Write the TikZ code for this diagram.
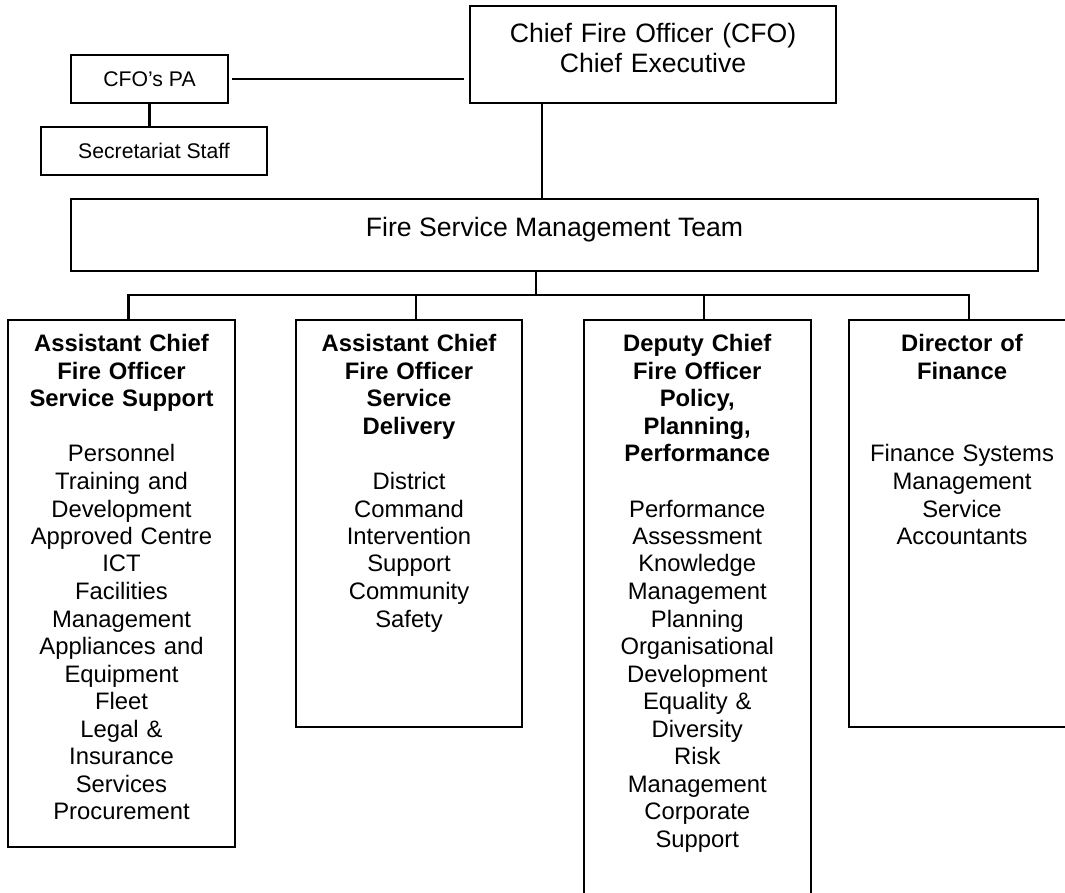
\documentclass[tikz,border=0pt]{standalone}
\usepackage{fontspec}
\setmainfont{Liberation Sans}
\usetikzlibrary{calc}
\newcommand{\unitsize}{\fontsize{6.77pt}{7.82pt}\selectfont}
\newcommand{\headsize}{\fontsize{7.57pt}{8.54pt}\selectfont}
\newcommand{\stafsize}{\fontsize{6.03pt}{7pt}\selectfont}

\begin{document}
\begin{tikzpicture}[x=0.01cm, y=-0.01cm, line width=0.6pt,
	box/.style={draw, inner sep=0pt},
	unittext/.style={anchor=base, inner sep=0pt, text width=2.2cm, align=center, font=\unitsize},
	headtext/.style={anchor=base, inner sep=0pt, align=center, font=\headsize}]
	\useasboundingbox (0,0) rectangle (1065,892);
	\clip (0,0) rectangle (1065,892);
		\node[box, minimum width=3.66cm, minimum height=0.97cm] (cfo) at (653,54.5) {};
		\node[headtext, text width=3.4cm] (cfo-t) at (653,42.5) {Chief Fire Officer (CFO)\\Chief Executive};
		\node[box, minimum width=1.57cm, minimum height=0.48cm, font=\stafsize] (pa) at (149.5,79) {CFO's PA};
		\node[box, minimum width=2.26cm, minimum height=0.48cm, font=\stafsize] (sec) at (154,151) {Secretariat Staff};
		\node[box, minimum width=9.67cm, minimum height=0.72cm] (fsmt) at (554.5,235.3) {};
		\node[headtext] (fsmt-t) at (554.5,236.5) {Fire Service Management Team};
		\node[box, minimum width=2.27cm, minimum height=5.27cm] (ss) at (121.5,583.5) {};
		\node[box, minimum width=2.26cm, minimum height=4.07cm] (sd) at (409,523.5) {};
		\node[box, minimum width=2.265cm, minimum height=6.2cm] (pp) at (697.25,630) {};
		\node[box, minimum width=2.26cm, minimum height=4.07cm] (fin) at (962,523.5) {};
		\node[unittext] (ss-t) at (121.5,352) {{\bfseries Assistant Chief\\Fire Officer\\Service Support}\\[7.82pt]Personnel\\Training and\\Development\\Approved Centre\\ICT\\Facilities\\Management\\Appliances and\\Equipment\\Fleet\\Legal \&\\Insurance\\Services\\Procurement};
		\node[unittext] (sd-t) at (409,352) {{\bfseries Assistant Chief\\Fire Officer\\Service\\Delivery}\\[7.82pt]District\\Command\\Intervention\\Support\\Community\\Safety};
		\node[unittext] (pp-t) at (697.25,352) {{\bfseries Deputy Chief\\Fire Officer\\Policy,\\Planning,\\Performance}\\[7.82pt]Performance\\Assessment\\Knowledge\\Management\\Planning\\Organisational\\Development\\Equality \&\\Diversity\\Risk\\Management\\Corporate\\Support};
		\node[unittext] (fin-t) at (962,352) {{\bfseries Director of\\Finance}\\[15.64pt]Finance Systems\\Management\\Service\\Accountants};
		\coordinate (cfo-d) at ([shift={(73,0)}]cfo.south west);
		\coordinate (bus) at (536,295);
		\coordinate (ss-in) at ([shift={(7,0)}]ss.north);
		\coordinate (sd-in) at ([shift={(7,0)}]sd.north);
		\coordinate (pp-in) at ([shift={(7,0)}]pp.north);
		\coordinate (fin-in) at ([shift={(7,0)}]fin.north);
		\draw [shorten <=0.8pt, shorten >=1.4pt] (pa.east) -- (pa.east -| cfo.west);
		\draw (pa.south) -- (pa.south |- sec.north);
		\draw (cfo-d) -- (cfo-d |- fsmt.north);
		\draw (fsmt.south -| bus) -- (bus);
		\draw (ss-in) |- (bus) -| (fin-in);
		\draw (sd-in) -- (sd-in |- bus);
		\draw (pp-in) -- (pp-in |- bus);
\end{tikzpicture}
\end{document}
